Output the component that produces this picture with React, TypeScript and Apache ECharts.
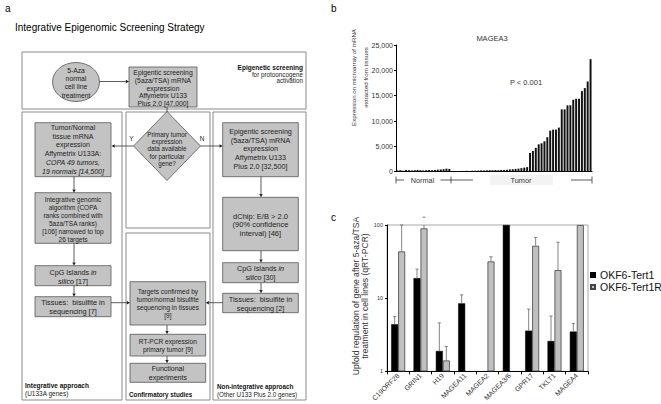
import React, { useEffect, useRef } from "react";
import * as echarts from "echarts";

const FONT = '"Liberation Sans", Arial, Helvetica, sans-serif';

// ---------- Panel b data (MAGEA3 microarray expression) ----------
const normalValues = [250, 300, 200, 350, 300, 250, 300, 350, 300, 250, 300, 350, 300, 350, 400, 450, 500, 600, 550];
const tumorValues = [
  150, 150, 120, 150, 150, 180, 150, 200, 200, 220, 250, 250, 280, 300, 300, 320, 300, 350, 350, 380,
  450, 500, 550, 600, 700, 800, 900,
  3700, 4100, 4700, 5400, 5600, 6000, 6800, 8100, 8300, 8300, 8700, 12300, 12300, 13100, 13100,
  14200, 14400, 14400, 15900, 16500, 17800, 22200,
];
const bMin = 0;
const bMax = 25000;
const bInterval = 5000;
const bTitle = "MAGEA3";
const bPText = "P < 0.001";
const bGroupLabels = ["Normal", "Tumor"];
const bYName = ["Expression on microarray of mRNA", "extracted from tissues"];

// ---------- Panel c data (qRT-PCR upfold regulation) ----------
const genes = ["C19ORF28", "GRIN1", "H19", "MAGEA11", "MAGEA2", "MAGEA3/6", "GPR17", "TKLT1", "MAGEA4"];
const seriesNames = ["OKF6-Tert1", "OKF6-Tert1R"];
const tert1 = [4.4, 18.8, 1.9, 8.5, null, 100, 3.6, 2.6, 3.5];
const tert1Err = [5.6, 25, 4.6, 11.1, null, null, 7.1, 5.7, 4.5];
const tert1R = [43.6, 90, 1.41, null, 31.8, null, 52, 24.2, 100];
const tert1RErr = [100, 128, 2.18, null, 36.8, null, 67.7, 58, null];
const cYName = ["Upfold regulation of gene after 5-aza/TSA", "treatment in cell lines (qRT-PCR)"];

// ---------- graphic helpers (panel a flowchart) ----------
const BOX_FILL = "#c3c3c3";
const BOX_STROKE = "#555";
const TXT = "#222";

function txt(text: string, x: number, y: number, o: any = {}) {
  const size = o.size || 6.8;
  const align = o.align || "center";
  return {
    type: "text",
    x,
    y,
    rotation: o.rotation || 0,
    silent: true,
    z: 20,
    style: {
      text,
      x: 0,
      y: 0,
      fill: o.fill || TXT,
      fontSize: size,
      fontFamily: FONT,
      fontWeight: o.weight || "normal",
      fontStyle: o.italic ? "italic" : "normal",
      align,
      textAlign: align,
      verticalAlign: "middle",
      textVerticalAlign: "middle",
      rich: {
        i: { fontStyle: "italic", fontSize: size, fontFamily: FONT, fill: o.fill || TXT },
      },
    },
  };
}

function rect(x1: number, y1: number, x2: number, y2: number, fill: string, stroke: string, lw = 0.8) {
  return {
    type: "rect",
    silent: true,
    z: 10,
    shape: { x: x1, y: y1, width: x2 - x1, height: y2 - y1 },
    style: { fill, stroke, lineWidth: lw },
  };
}

function box(x1: number, y1: number, x2: number, y2: number, lines: string[], cy: number, step: number, size = 6.8) {
  const out: any[] = [rect(x1, y1, x2, y2, BOX_FILL, BOX_STROKE)];
  const cx = (x1 + x2) / 2;
  const start = cy - ((lines.length - 1) * step) / 2;
  lines.forEach((l, i) => out.push(txt(l, cx, start + i * step, { size })));
  return out;
}

function arrow(x1: number, y1: number, x2: number, y2: number, head = true) {
  const dx = x2 - x1;
  const dy = y2 - y1;
  const len = Math.hypot(dx, dy);
  const ux = dx / len;
  const uy = dy / len;
  const L = 3.2;
  const W = 1.7;
  const bx = head ? x2 - ux * L : x2;
  const by = head ? y2 - uy * L : y2;
  const out: any[] = [
    { type: "line", silent: true, z: 12, shape: { x1, y1, x2: bx, y2: by }, style: { stroke: "#333", lineWidth: 0.8 } },
  ];
  if (head) {
    out.push({
      type: "polygon",
      silent: true,
      z: 12,
      shape: { points: [[x2, y2], [bx - uy * W, by + ux * W], [bx + uy * W, by - ux * W]] },
      style: { fill: "#222" },
    });
  }
  return out;
}

function buildFlowchart() {
  const g: any[] = [];
  const C = "#8a8a8a";
  // panel labels & title
  g.push(txt("a", 5, 8, { size: 10, align: "left", fill: "#000" }));
  g.push(txt("b", 331, 8, { size: 10, align: "left", fill: "#000" }));
  g.push(txt("c", 331, 217, { size: 10, align: "left", fill: "#000" }));
  g.push(txt("Integrative Epigenomic Screening Strategy", 15, 27, { size: 10, align: "left", fill: "#000" }));

  // containers
  g.push(rect(22, 52, 306, 109, "#fff", C, 1));
  g.push(rect(22, 112, 122, 400, "#fff", C, 1));
  g.push(rect(126, 112, 210, 228, "#fff", C, 1));
  g.push(rect(126, 233, 210, 400, "#fff", C, 1));
  g.push(rect(213, 112, 306, 400, "#fff", C, 1));

  // top section
  g.push({
    type: "ellipse",
    silent: true,
    z: 10,
    shape: { cx: 76, cy: 82, rx: 23.5, ry: 19.5 },
    style: { fill: BOX_FILL, stroke: BOX_STROKE, lineWidth: 0.8 },
  });
  ["5-Aza", "normal", "cell line", "treatment"].forEach((l, i) => g.push(txt(l, 76, 70.3 + i * 8.3, { size: 6.8 })));
  g.push(...arrow(99.5, 81.5, 129, 81.5));
  g.push(...box(129, 67, 197, 107, ["Epigentic screening", "(5aza/TSA) mRNA", "expression", "Affymetrix U133", "Plus 2.0 [47,000]"], 88, 7.6, 6.8));
  g.push(txt("Epigenetic screening", 303, 67.7, { size: 6.5, align: "right", weight: "bold", fill: "#111" }));
  g.push(txt("for protooncogene", 303, 74.3, { size: 6.3, align: "right" }));
  g.push(txt("activation", 303, 80.7, { size: 6.3, align: "right" }));

  // decision diamond
  g.push(...arrow(167, 107, 167, 112, false));
  g.push({
    type: "polygon",
    silent: true,
    z: 10,
    shape: { points: [[167, 111.5], [200.5, 146], [167, 180.5], [133.5, 146]] },
    style: { fill: BOX_FILL, stroke: BOX_STROKE, lineWidth: 0.8 },
  });
  ["Primary tumor", "expression", "data available", "for particular", "gene?"].forEach((l, i) =>
    g.push(txt(l, 167, 134.5 + i * 7.2, { size: 6.3 }))
  );
  g.push(txt("Y", 131.5, 138.5, { size: 6.5 }));
  g.push(txt("N", 202, 138.5, { size: 6.5 }));
  g.push(...arrow(133.5, 146, 111.5, 146));
  g.push(...arrow(200.5, 146, 222.7, 146));

  // left column (integrative)
  g.push(...box(35, 122.7, 111, 176.7, ["Tumor/Normal", "tissue mRNA", "expression", "Affymetrix U133A:", "{i|COPA 49 tumors,}", "{i|19 normals [14,500]}"], 149.2, 8.8, 7));
  g.push(...arrow(74, 176.7, 74, 192.7));
  g.push(...box(35, 192.7, 111, 243.3, ["Integrative genomic", "algorithm (COPA", "ranks combined with", "5aza/TSA ranks)", "[106] narrowed to top", "26 targets"], 219.7, 8.1, 6.5));
  g.push(...arrow(74, 243.3, 74, 265.7));
  g.push(...box(35, 265.7, 111, 285.7, ["CpG Islands {i|in}", "{i|silico} [17]"], 276.7, 8.7, 7.2));
  g.push(...arrow(74, 285.7, 74, 296.7));
  g.push(...box(35, 296.7, 111, 316.7, ["Tissues:  bisulfite in", "sequencing [7]"], 307.2, 9, 7.3));
  g.push(...arrow(111, 302.7, 130, 302.7));
  g.push(txt("Integrative approach", 25, 385, { size: 6.5, align: "left", weight: "bold", fill: "#111" }));
  g.push(txt("(U133A genes)", 25, 393.5, { size: 6.5, align: "left" }));

  // right column (non-integrative)
  g.push(...box(222.7, 122.7, 298.3, 176.7, ["Epigentic screening", "(5aza/TSA) mRNA", "expression", "Affymetrix U133", "Plus 2.0 [32,500]"], 148.8, 8.6, 7.2));
  g.push(...arrow(261, 176.7, 261, 197.3));
  g.push(...box(222.7, 197.3, 298.3, 250.7, ["dChip: E/B > 2.0", "(90% confidence", "interval) [46]"], 224.8, 8.7, 7.5));
  g.push(...arrow(261, 250.7, 261, 262.7));
  g.push(...box(222.7, 262.7, 298.3, 282.7, ["CpG Islands {i|in}", "{i|silico} [30]"], 272.8, 9, 7.2));
  g.push(...arrow(261, 282.7, 261, 293.3));
  g.push(...box(222.7, 293.3, 298.3, 312.7, ["Tissues:  bisulfite in", "sequencing [2]"], 304, 9.2, 7.3));
  g.push(...arrow(222.7, 302.7, 205.7, 302.7));
  g.push(txt("Non-integrative approach", 217, 386, { size: 6.3, align: "left", weight: "bold", fill: "#111" }));
  g.push(txt("(Other U133 Plus 2.0 genes)", 217, 394.3, { size: 6.3, align: "left" }));

  // middle column (confirmatory)
  g.push(...box(130, 281.7, 205.7, 325, ["Targets confirmed by", "tumor/normal bisulfite", "sequencing in tissues", "[9]"], 303.5, 8, 6.5));
  g.push(...arrow(167, 325, 167, 334.3));
  g.push(...box(130, 334.3, 205.7, 356, ["RT-PCR expression", "primary tumor [9]"], 345, 8, 6.6));
  g.push(...arrow(167, 356, 167, 363.3));
  g.push(...box(130, 363.3, 205.7, 382.3, ["Functional", "experiments"], 372.8, 9, 7));
  g.push(txt("Confirmatory studies", 129, 394, { size: 6.3, align: "left", weight: "bold", fill: "#111" }));

  return g;
}

function buildAnnotations() {
  const g: any[] = [];
  const L = "#333";
  const line = (x1: number, y1: number, x2: number, y2: number) => ({
    type: "line",
    silent: true,
    z: 15,
    shape: { x1, y1, x2, y2 },
    style: { stroke: L, lineWidth: 0.8 },
  });
  // panel b texts
  g.push(txt(bTitle, 492, 38.5, { size: 7.5, fill: "#333" }));
  g.push(txt(bPText, 526, 82, { size: 7.5, fill: "#333" }));
  g.push(txt(bYName[0], 353.8, 77.5, { size: 6.2, rotation: Math.PI / 2, fill: "#333" }));
  g.push(txt(bYName[1], 365, 77.5, { size: 6.2, rotation: Math.PI / 2, fill: "#333" }));
  // group bracket under panel b
  const by = 180;
  g.push(line(396, by - 3.5, 396, by + 3.5));
  g.push(line(396, by, 404, by));
  g.push(txt(bGroupLabels[0], 422.5, by, { size: 7.3, fill: "#333" }));
  g.push(line(440.5, by, 473, by));
  g.push(line(451, by - 3.5, 451, by + 3.5));
  g.push({ type: "rect", silent: true, z: 14, shape: { x: 490, y: 175, width: 63, height: 10 }, style: { fill: "#f3f3f3" } });
  g.push(txt(bGroupLabels[1], 521, by, { size: 7.3, fill: "#333" }));
  g.push(line(571, by, 592, by));
  g.push(line(592, by - 3.5, 592, by + 3.5));
  // panel c axis title
  g.push(txt(cYName[0], 355.5, 296, { size: 8.6, rotation: Math.PI / 2, fill: "#333" }));
  g.push(txt(cYName[1], 364.5, 296, { size: 8.6, rotation: Math.PI / 2, fill: "#333" }));
  return g;
}

function errData(vals: (number | null)[], errs: (number | null)[]) {
  const out: number[][] = [];
  vals.forEach((v, i) => {
    const e = errs[i];
    if (v != null && e != null) out.push([i, v, e]);
  });
  return out;
}

function errRender(offset: number) {
  return (params: any, api: any) => {
    const cat = api.value(0);
    const p0 = api.coord([cat, api.value(1)]);
    const p1 = api.coord([cat, api.value(2)]);
    const cs = params.coordSys;
    const x = p0[0] + offset;
    const yClip = Math.max(p1[1], cs.y);
    const st = { stroke: "#666", lineWidth: 0.8 };
    return {
      type: "group",
      children: [
        { type: "line", shape: { x1: x, y1: p0[1], x2: x, y2: yClip }, style: st },
        { type: "line", shape: { x1: x - 1.6, y1: p1[1], x2: x + 1.6, y2: p1[1] }, style: st },
      ],
    };
  };
}

export default function App() {
  const ref = useRef<HTMLDivElement>(null);

  useEffect(() => {
    document.body.style.margin = "0";
    document.body.style.background = "#fff";
    if (!ref.current) return;
    const chart = echarts.init(ref.current, undefined, { renderer: "svg" });

    const bValues = [...normalValues, ...tumorValues];
    const bCats = bValues.map((_, i) => (i < normalValues.length ? `N${i + 1}` : `T${i - normalValues.length + 1}`));
    const BAR_W = 7;

    const option: any = {
      animation: false,
      backgroundColor: "#fff",
      textStyle: { fontFamily: FONT },
      grid: [
        { left: 396, top: 45, width: 196, height: 126.7, containLabel: false },
        { left: 387, top: 225, width: 201, height: 147, show: true, borderColor: "#a8a8a8", borderWidth: 1, containLabel: false },
      ],
      legend: {
        data: seriesNames,
        orient: "vertical",
        left: 590,
        top: 269.5,
        itemWidth: 4,
        itemHeight: 4,
        itemGap: 1,
        padding: 0,
        icon: "rect",
        textStyle: { fontSize: 10.5, color: "#111", fontFamily: FONT },
      },
      xAxis: [
        {
          gridIndex: 0,
          type: "category",
          data: bCats,
          axisLine: { lineStyle: { color: "#000", width: 1 } },
          axisTick: { show: false },
          axisLabel: { show: false },
          splitLine: { show: false },
        },
        {
          gridIndex: 1,
          type: "category",
          data: genes,
          axisLine: { lineStyle: { color: "#000", width: 1 } },
          axisTick: { show: true, length: 3, lineStyle: { color: "#000" } },
          axisLabel: { rotate: 45, interval: 0, fontSize: 7, color: "#333", margin: 3, fontFamily: FONT },
          splitLine: { show: false },
        },
      ],
      yAxis: [
        {
          gridIndex: 0,
          type: "value",
          min: bMin,
          max: bMax,
          interval: bInterval,
          axisLine: { show: true, lineStyle: { color: "#000", width: 1 } },
          axisTick: { show: true, length: 2, lineStyle: { color: "#000" } },
          axisLabel: { fontSize: 7, color: "#333", margin: 3, fontFamily: FONT },
          splitLine: { show: false },
        },
        {
          gridIndex: 1,
          type: "log",
          logBase: 10,
          min: 1,
          max: 100,
          axisLine: { show: true, lineStyle: { color: "#000", width: 1 } },
          axisTick: { show: true, length: 2, lineStyle: { color: "#000" } },
          axisLabel: { fontSize: 5.5, color: "#333", margin: 4, fontFamily: FONT },
          splitLine: { show: false },
          minorTick: { show: false },
        },
      ],
      series: [
        {
          type: "bar",
          name: "MAGEA3",
          xAxisIndex: 0,
          yAxisIndex: 0,
          data: bValues,
          barCategoryGap: "32%",
          itemStyle: { color: "#111" },
        },
        {
          type: "bar",
          name: seriesNames[0],
          xAxisIndex: 1,
          yAxisIndex: 1,
          data: tert1.map((v) => (v == null ? "-" : v)),
          barWidth: BAR_W,
          barGap: "0%",
          itemStyle: { color: "#000", borderColor: "#000", borderWidth: 0.5 },
        },
        {
          type: "bar",
          name: seriesNames[1],
          xAxisIndex: 1,
          yAxisIndex: 1,
          data: tert1R.map((v) => (v == null ? "-" : v)),
          barWidth: BAR_W,
          barGap: "0%",
          itemStyle: { color: "#c0c0c0", borderColor: "#444", borderWidth: 0.8 },
        },
        {
          type: "custom",
          name: "err1",
          xAxisIndex: 1,
          yAxisIndex: 1,
          clip: false,
          z: 5,
          data: errData(tert1, tert1Err),
          encode: { x: 0, y: [1, 2] },
          renderItem: errRender(-BAR_W / 2),
        },
        {
          type: "custom",
          name: "err2",
          xAxisIndex: 1,
          yAxisIndex: 1,
          clip: false,
          z: 5,
          data: errData(tert1R, tert1RErr),
          encode: { x: 0, y: [1, 2] },
          renderItem: errRender(BAR_W / 2),
        },
      ],
      graphic: { elements: [...buildFlowchart(), ...buildAnnotations()] },
    };

    chart.setOption(option);
    return () => {
      chart.dispose();
    };
  }, []);

  return <div ref={ref} style={{ width: 661, height: 404, background: "#fff" }} />;
}
